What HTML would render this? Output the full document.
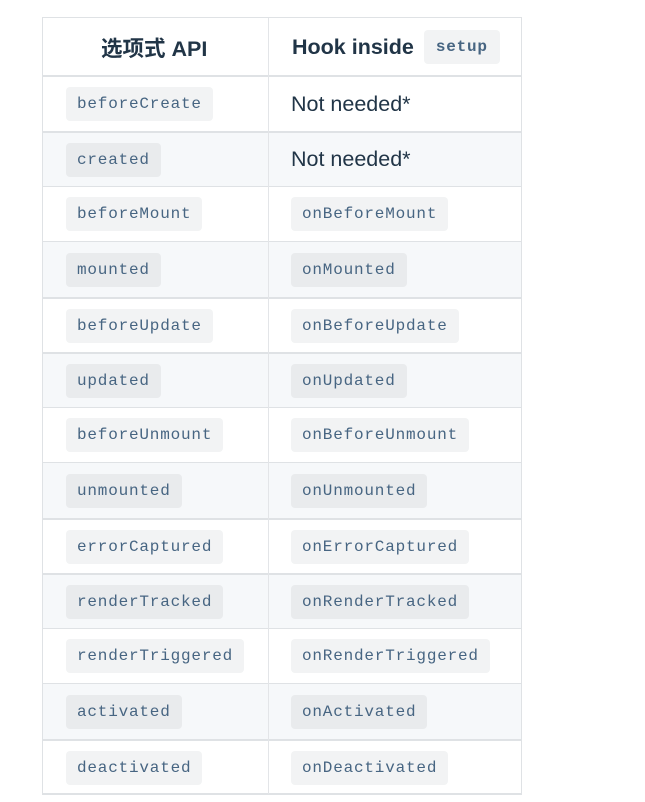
<!DOCTYPE html>
<html><head><meta charset="utf-8"><style>
html,body{margin:0;padding:0;background:#fff;width:645px;height:802px;overflow:hidden}
.t{position:absolute;left:42px;top:17px;width:480px;border:1px solid #dfe2e5;border-bottom:2px solid #dfe2e5;box-sizing:border-box}
.r{position:absolute;left:0;width:478px;border-top:1px solid #dfe2e5;box-sizing:border-box}
.r.s{background:#f6f8fa}
.c1,.c2{position:absolute;top:0;bottom:0;display:flex;align-items:center}
.c1{left:23px}
.c2{left:248px}
.v{position:absolute;left:225px;top:0;width:1px;height:776px;background:#e3e5e8;z-index:5}
code{font-family:"Liberation Mono",monospace;font-size:16px;letter-spacing:0.8px;color:#476582;background:#f2f3f4;border-radius:4px;padding:0 11px;height:34px;line-height:34px;display:inline-block}
.s code{background:#e9ebed}
.n{font-family:"Liberation Sans",sans-serif;font-size:21.5px;color:#213547}
.h{font-family:"Liberation Sans","Noto Sans CJK SC",sans-serif;font-weight:bold;font-size:21.5px;color:#213547}
</style></head><body>
<div class="t" style="height:778px">
<div class="v"></div>
<div class="r" style="top:0;height:58px;border-top:none">
 <div class="c1 h" style="left:58px">选项式 API</div>
 <div class="c2 h" style="left:249px">Hook inside&nbsp;<code style="font-weight:bold;font-size:16px;height:34px;margin-left:4px;padding:0 12px">setup</code></div>
</div>
<div class="r" style="top:57px;height:56px;border-top:2px solid #dfe2e5"><div class="c1"><code>beforeCreate</code></div><div class="c2 n">Not needed*</div></div>
<div class="r s" style="top:113px;height:55px;border-top:2px solid #dfe2e5"><div class="c1"><code>created</code></div><div class="c2 n">Not needed*</div></div>
<div class="r" style="top:168px;height:55px"><div class="c1"><code>beforeMount</code></div><div class="c2"><code>onBeforeMount</code></div></div>
<div class="r s" style="top:223px;height:56px"><div class="c1"><code>mounted</code></div><div class="c2"><code>onMounted</code></div></div>
<div class="r" style="top:279px;height:55px;border-top:2px solid #dfe2e5"><div class="c1"><code>beforeUpdate</code></div><div class="c2"><code>onBeforeUpdate</code></div></div>
<div class="r s" style="top:334px;height:55px;border-top:2px solid #dfe2e5"><div class="c1"><code>updated</code></div><div class="c2"><code>onUpdated</code></div></div>
<div class="r" style="top:389px;height:55px"><div class="c1"><code>beforeUnmount</code></div><div class="c2"><code>onBeforeUnmount</code></div></div>
<div class="r s" style="top:444px;height:56px"><div class="c1"><code>unmounted</code></div><div class="c2"><code>onUnmounted</code></div></div>
<div class="r" style="top:500px;height:55px;border-top:2px solid #dfe2e5"><div class="c1"><code>errorCaptured</code></div><div class="c2"><code>onErrorCaptured</code></div></div>
<div class="r s" style="top:555px;height:55px;border-top:2px solid #dfe2e5"><div class="c1"><code>renderTracked</code></div><div class="c2"><code>onRenderTracked</code></div></div>
<div class="r" style="top:610px;height:55px"><div class="c1"><code>renderTriggered</code></div><div class="c2"><code>onRenderTriggered</code></div></div>
<div class="r s" style="top:665px;height:56px"><div class="c1"><code>activated</code></div><div class="c2"><code>onActivated</code></div></div>
<div class="r" style="top:721px;height:55px;border-top:2px solid #dfe2e5"><div class="c1"><code>deactivated</code></div><div class="c2"><code>onDeactivated</code></div></div>
</div>
</body></html>
